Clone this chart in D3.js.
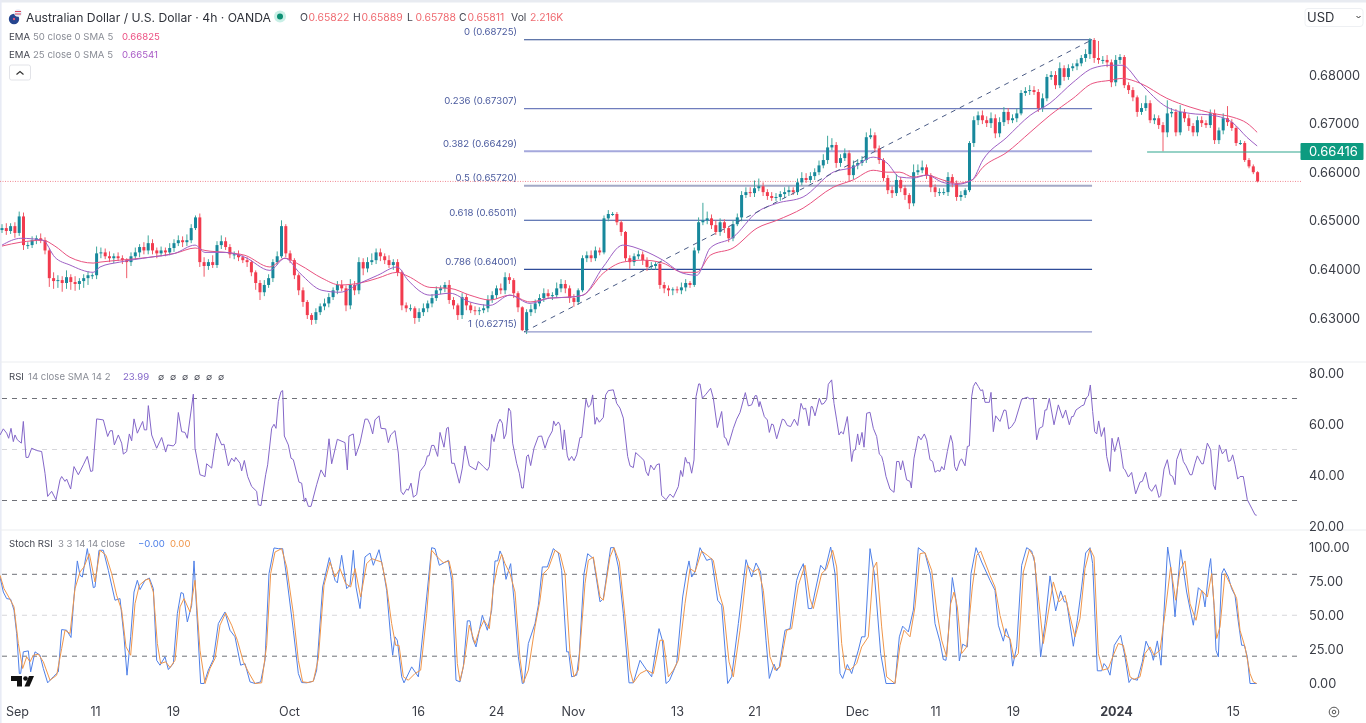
<!DOCTYPE html>
<html><head><meta charset="utf-8"><title>AUD/USD 4h</title>
<script src="https://cdnjs.cloudflare.com/ajax/libs/d3/7.8.5/d3.min.js"></script>
<style>html,body{margin:0;padding:0;background:#fff;overflow:hidden}svg{display:block;font-family:Inter,"Open Sans",sans-serif;filter:blur(0.35px)}</style>
</head><body><svg id="c" width="1366" height="723"></svg>
<script>
// Prices in pips (0.6560 = 6560). Time in chart ticks: one 4h bar is 12.9 ticks.
const closes=[6485,6479,6489,6475,6509,6450,6450,6460,6464,6460,6439,6382,6376,6378,6372,6384,6374,6370,6376,6382,
6388,6388,6433,6435,6427,6423,6427,6423,6419,6415,6427,6435,6446,6439,6454,6439,6433,6439,6435,6444,
6454,6460,6456,6460,6485,6507,6415,6407,6415,6409,6450,6458,6446,6431,6431,6425,6419,6415,6394,6372,
6353,6368,6382,6415,6427,6489,6433,6419,6388,6357,6333,6306,6296,6312,6324,6330,6343,6357,6368,6361,
6326,6368,6357,6415,6402,6415,6419,6435,6427,6419,6409,6415,6394,6326,6320,6320,6300,6312,6320,6330,
6341,6357,6361,6368,6337,6326,6306,6343,6326,6316,6314,6316,6320,6337,6347,6361,6357,6384,6378,6351,
6322,6275,6312,6318,6330,6341,6351,6345,6347,6361,6370,6361,6341,6333,6357,6423,6429,6423,6439,6435,
6505,6514,6514,6497,6477,6423,6415,6427,6431,6419,6405,6407,6411,6368,6361,6357,6359,6357,6363,6372,
6368,6439,6497,6501,6505,6491,6477,6497,6485,6464,6493,6507,6553,6559,6557,6567,6571,6559,6551,6547,
6549,6555,6559,6563,6559,6579,6588,6584,6592,6600,6614,6625,6651,6656,6619,6629,6639,6594,6614,6619,
6625,6672,6676,6649,6625,6588,6563,6557,6584,6567,6553,6536,6600,6604,6610,6594,6569,6559,6559,6559,
6590,6577,6549,6553,6563,6660,6707,6717,6707,6701,6711,6680,6703,6724,6707,6711,6721,6763,6767,6769,
6765,6732,6752,6796,6800,6779,6814,6796,6814,6818,6824,6835,6843,6872,6835,6831,6831,6826,6785,6831,
6837,6779,6769,6754,6724,6732,6742,6707,6711,6697,6682,6721,6724,6682,6724,6711,6695,6682,6707,6701,
6697,6721,6666,6686,6711,6703,6691,6660,6660,6625,6612,6600,6581];
const wickUp=[8,10,6,8,10,8,6,8,6,10,6,4,12,10,8,14,6,12,6,8,
8,4,14,10,8,10,6,8,6,4,8,10,6,10,16,8,6,8,6,10,
8,10,8,12,8,4,8,10,6,14,8,12,8,6,6,8,4,6,4,4,
6,10,8,6,10,12,4,6,4,4,6,4,4,8,6,10,8,6,8,10,
6,12,8,10,8,10,14,8,8,6,10,6,6,4,6,8,4,8,10,6,
8,8,6,6,10,6,4,8,6,6,8,6,8,10,8,6,10,10,8,4,
4,2,6,10,8,8,10,8,6,12,10,8,6,8,4,6,8,10,8,6,
6,8,4,4,4,2,6,6,8,6,6,8,4,4,6,6,4,6,10,8,
4,6,10,36,14,8,10,8,6,4,8,8,8,10,10,16,16,8,6,8,
8,6,10,8,6,8,12,10,8,8,10,12,24,14,6,8,10,6,10,8,
8,10,14,6,6,4,6,8,12,6,6,4,16,12,14,6,4,6,8,8,
10,6,6,8,4,4,8,8,10,8,12,8,10,10,8,8,10,6,8,10,
8,6,10,6,8,8,12,6,8,6,8,6,10,4,4,35,8,10,6,10,
6,4,6,6,4,10,16,6,8,6,6,27,8,6,14,6,8,6,8,8,
6,8,8,6,10,25,6,4,6,4,4,4,2];
const wickDown=[6,8,6,10,6,10,8,6,8,6,8,18,16,14,18,12,16,14,12,14,
14,8,8,10,6,8,10,6,8,33,8,6,10,8,8,8,10,6,8,6,
8,6,10,8,6,4,10,22,8,6,6,8,6,8,10,8,6,10,8,14,
16,8,6,8,6,4,8,6,8,10,10,8,10,8,6,8,8,6,8,6,
12,8,10,8,14,8,6,8,10,8,6,10,8,10,8,6,12,8,8,8,
8,6,8,8,8,8,10,8,10,6,8,8,6,8,6,8,8,8,8,10,
10,2,8,8,8,6,8,6,8,6,8,10,10,10,6,4,8,8,6,6,
4,6,4,6,8,6,14,8,6,10,8,6,8,8,10,12,10,6,8,8,
6,4,6,6,8,8,6,8,10,8,6,4,8,6,8,8,6,8,8,6,
6,8,8,8,6,6,6,6,6,8,6,6,8,6,10,8,6,14,8,8,
6,6,4,8,8,6,8,10,6,8,10,12,6,6,6,8,10,10,8,6,
8,8,8,8,6,4,8,10,8,8,10,10,8,8,8,6,8,4,6,8,
6,8,8,6,6,8,6,8,6,6,8,6,8,10,10,8,8,10,10,8,
8,6,8,8,10,6,6,6,8,8,39,10,8,8,6,8,10,8,8,8,
6,6,8,8,8,8,6,6,4,4,4,4,2];
const emaBars=[0,4.4,9.5,12.3,15.8,21.2,22.8,27.4,34.4,40.2,44.9,47.2,51.9,56.5,62.3,65.8,69.3,74.4,78.6,83.3,
87.4,91.9,94.4,99.5,104.2,108.8,113.5,118.1,122.8,127.4,132.1,135.1,139.8,144.4,149.1,153.7,158.4,161.6,164.7,170,
175.6,180.2,186.3,193.3,197.9,202.6,205.8,208.8,211.9,215.1,218.8,222.1,225.6,228.1,233.7,239.1,243.7,249.1,253.7,257.7,
260.5,264.7,270.9,276.3,281.6,286.3,289.5,291.9];
const ema50=[6448,6456,6460,6448,6425,6413,6415,6419,6425,6433,6444,6439,6435,6429,6405,6423,6409,6382,6368,6372,
6382,6394,6386,6363,6361,6347,6337,6347,6333,6341,6343,6347,6392,6415,6419,6413,6394,6394,6429,6444,
6485,6501,6526,6569,6584,6604,6600,6600,6590,6594,6584,6577,6584,6610,6641,6682,6717,6752,6783,6789,
6793,6783,6752,6734,6721,6713,6701,6682];
const ema25=[6450,6464,6460,6425,6409,6394,6405,6415,6425,6433,6450,6435,6435,6425,6398,6423,6392,6357,6353,6372,
6388,6405,6378,6347,6351,6333,6326,6347,6330,6341,6343,6347,6405,6450,6439,6419,6392,6388,6444,6466,
6518,6536,6549,6600,6610,6631,6619,6590,6588,6594,6579,6575,6584,6625,6672,6717,6742,6785,6814,6820,
6820,6783,6734,6721,6717,6701,6672,6654];
const fibRatios=["0","0.236","0.382","0.5","0.618","0.786","1"];
const fibPrices=[6872.5,6730.7,6642.9,6572,6501.1,6400.1,6271.5];
const fibLabels=["0.68725","0.67307","0.66429","0.65720","0.65011","0.64001","0.62715"];
const fibColors=["#2c4a8e","#6f7dbd","#a5a8dc","#a3a9c6","#33509f","#2f4c99","#9097cb"];
const fibWidths=[1,1.2,2,2,1.1,1.1,1.4];
const fibBars=[121.4,253.5];
const lastPrice=6581, markedLevel=6641.6, markedStartBar=266.3;
const priceTicks=[6300,6400,6500,6600,6700,6800];
const rsiTicks=[20,40,60,80], rsiBands=[70,50,30];
const stochTicks=[0,25,50,75,100], stochBands=[80,50,20];
const timeTickAt=[51,285,519,867,1254,1488,1719,2031,2262,2571,2805,3039,3348,3699];
const timeTickText=["Sep","11","19","Oct","16","24","Nov","13","21","Dec","11","19","2024","15"];
const rsiSeries=[[0,55.7],[10,58.1],[20,56.4],[26,54.4],[33,58.3],[40,53.1],[45,55.7],[52,53.8],[64,52.5],[70,61],[78,46.9],[85,46.9],[95,50.5],[110,49.6],[125,49.2],[135,40.7],[143,31.6],[155,33.6],[168,30.3],[180,38.1],[185,39.4],[195,37.5],[200,38.4],[212,34.5],[222,43.3],[235,40.1],[250,44],[262,47.3],[272,41.4],[278,41.6],[290,62],[310,61.6],[323,55.1],[330,57.3],[337,57.4],[343,51.8],[355,55.7],[365,52.5],[370,48.2],[380,49.2],[388,56.1],[395,53.4],[402,62],[412,56.4],[428,61],[433,57.7],[440,57.7],[445,67.2],[455,55.7],[470,50.5],[485,54.7],[497,49],[503,51.8],[520,51.4],[527,52.5],[535,64.5],[545,57],[555,56.7],[562,54.4],[580,71.7],[585,50.5],[600,40.1],[615,39.4],[620,44.4],[635,42.7],[650,56.4],[665,51.8],[672,52.1],[685,43.6],[695,46.6],[703,45.3],[707,46.9],[720,44.6],[725,41.6],[733,45.7],[743,39.4],[755,35.5],[770,33.6],[775,28.3],[783,28],[797,40.1],[803,44],[815,58.3],[822,59.9],[828,58.3],[835,68.8],[843,72.7],[848,73.1],[853,55.3],[865,51.8],[873,46.6],[880,46],[897,37.2],[905,36.8],[913,29.6],[917,31],[925,27.7],[933,27.7],[950,36.2],[963,42],[975,39.2],[987,54.2],[995,44.4],[1012,54],[1035,52.7],[1042,42],[1047,55.3],[1060,56.1],[1067,47.5],[1080,52.5],[1095,61.9],[1103,61.9],[1110,59.9],[1118,56.1],[1125,61.6],[1137,63.2],[1143,58.3],[1157,58.1],[1165,52.7],[1172,55.7],[1185,57.4],[1195,48.6],[1203,33.6],[1210,32.3],[1220,34.5],[1225,34],[1233,36.8],[1240,31.3],[1250,32.3],[1260,41.4],[1275,44],[1282,47.5],[1287,47.5],[1295,51.6],[1302,51.6],[1313,47.3],[1320,56.7],[1332,50.9],[1340,58.3],[1345,58.7],[1355,44.6],[1363,44.6],[1378,36.8],
[1387,42.7],[1395,51.4],[1408,43.6],[1428,42],[1435,45.3],[1450,43.3],[1462,41.8],[1468,43.3],[1475,56],[1482,53.1],[1493,59.9],[1500,61.9],[1507,60.3],[1512,54.2],[1518,56.1],[1526,66.2],[1532,64.9],[1538,52.5],[1550,44.6],[1558,40.7],[1565,34.9],[1570,34.9],[1580,47.3],[1585,47.9],[1592,43.7],[1602,50.5],[1615,55.1],[1625,55.3],[1635,50.5],[1645,54.4],[1657,57.3],[1661,61.2],[1667,59.3],[1675,60.8],[1680,59.6],[1688,50.1],[1693,57.7],[1702,47.5],[1707,45.7],[1715,47.3],[1722,45.6],[1730,47.9],[1740,54.7],[1745,54.7],[1758,69.7],[1765,66.6],[1772,67.5],[1778,71.4],[1785,59.9],[1790,62.6],[1798,60.7],[1810,62.6],[1817,71.4],[1825,73.1],[1840,73.4],[1850,68.1],[1860,66.2],[1870,62.3],[1883,47.3],[1890,43.6],[1900,42.9],[1907,48.8],[1922,47],[1932,45.7],[1938,41.4],[1945,39.7],[1952,43.9],[1962,42],[1970,44],[1978,44.4],[1985,32],[1998,30.3],[2010,32.5],[2020,31.2],[2035,35.5],[2042,41.8],[2048,39.4],[2056,46.9],[2062,44.7],[2068,44.9],[2075,40.7],[2082,45.9],[2088,70.7],[2096,75.7],[2100,75.7],[2107,70.1],[2118,71.7],[2132,74],[2140,70.1],[2152,58.6],[2165,64.9],[2173,54.8],[2178,54.4],[2185,51.6],[2200,58.3],[2210,61.9],[2220,64.5],[2236,72.3],[2245,67.1],[2255,67.5],[2265,71.1],[2270,71.1],[2277,66.8],[2280,68.8],[2293,62.9],[2302,61.6],[2308,56.7],[2315,60],[2320,59.7],[2330,54.2],[2347,61.9],[2353,61.6],[2362,59.4],[2372,59],[2383,61.9],[2393,59.4],[2403,68.1],[2410,65.8],[2417,66.2],[2427,59.3],[2433,66.8],[2437,66.8],[2445,63.2],[2458,70.1],[2465,67.7],[2472,68.1],[2480,69.7],[2485,75.6],[2495,77.3],[2502,68.1],[2510,61.6],[2517,55.7],[2523,57],[2530,56.1],[2542,62.9],[2555,45.3],[2560,49.5],[2566,49.9],[2573,56.1],[2578,51.8],[2586,56.7],[2592,50.9],[2600,64.2],[2610,64.6],[2620,58.3],[2630,55.1],[2638,48.2],[2645,47.3],[2650,44.9],[2658,39.4],[2670,34.5],[2682,33.2],[2690,45.3],[2697,45.3],[2702,42],[2708,45.6],[2720,38.1],[2730,37.5],
[2734,34.9],[2742,46.6],[2755,55.3],[2763,53.8],[2773,56.1],[2780,53.8],[2790,46],[2798,45.3],[2805,41.1],[2813,41.8],[2820,41.4],[2825,43.3],[2832,42],[2842,49.2],[2852,55.5],[2858,52.5],[2864,43.3],[2870,41.6],[2880,45.7],[2885,46.3],[2895,43.6],[2902,51.2],[2908,51.4],[2915,70.7],[2920,74.7],[2927,76.4],[2935,74.7],[2942,73.1],[2948,73.4],[2955,68.5],[2968,68.5],[2973,72.4],[2980,57],[2987,63.2],[3000,61],[3012,65.5],[3018,65.3],[3026,58.1],[3035,59],[3045,61],[3065,69.7],[3082,70.5],[3090,69.8],[3100,70.1],[3110,53.8],[3118,58.3],[3128,59],[3135,65.5],[3140,65.5],[3148,70.1],[3162,59.7],[3175,67.5],[3188,62.3],[3197,65.5],[3208,59.7],[3215,62.9],[3220,62.9],[3228,65.5],[3245,67.1],[3252,67.5],[3258,70.1],[3265,71],[3271,75.3],[3278,64.9],[3284,57],[3290,56.1],[3296,61.2],[3304,55.1],[3313,58.6],[3320,47.3],[3330,41.4],[3336,54.4],[3344,49.2],[3355,54.8],[3362,49.9],[3370,42.7],[3375,42],[3385,39.2],[3395,41],[3407,32.6],[3420,37.2],[3427,37.5],[3437,41.1],[3447,34.9],[3455,33.6],[3467,36.2],[3477,31.2],[3482,31.9],[3492,42.3],[3502,46],[3510,40.1],[3518,39.4],[3525,36.2],[3530,46],[3542,50.3],[3550,45.3],[3558,43.6],[3570,40.1],[3576,40.1],[3585,44.6],[3592,47.5],[3605,44.4],[3610,44.4],[3622,52.5],[3632,49.9],[3640,36.2],[3646,34.2],[3658,51.8],[3667,48.3],[3678,50.1],[3685,45.3],[3692,45.7],[3698,47.9],[3705,44],[3713,38.4],[3720,39.4],[3730,39.4],[3742,30.3],[3755,27],[3765,24.4],[3770,24.2]];
const stochK=[[0,78],[10,67],[20,62.2],[32,61.7],[42,53.7],[50,36.6],[58,7.3],[62,7.3],[70,23.2],[85,23.9],[92,8.5],[105,23.2],[120,20.7],[130,11],[143,0.5],[160,4.9],[175,8.5],[185,39.5],[200,39],[213,33.7],[222,63.4],[232,89.8],[240,79.3],[247,78],[262,98.8],[270,85.4],[280,70.2],[285,70.7],[297,97.6],[310,97.6],[325,82.9],[345,61],[360,62.2],[372,34.2],[381,6.1],[392,34.2],[402,67],[412,75.6],[420,68.8],[435,75.6],[448,77.3],[460,69.5],[470,17],[480,13.4],[495,19.5],[505,10.2],[520,14.6],[532,51.2],[543,66.6],[550,65.9],[562,45.1],[575,57.3],[582,89.8],[590,53.7],[602,0],[612,0],[625,9.8],[640,17.6],[655,43.9],[675,52.4],[690,39],[705,34.2],[722,13.4],[735,14.6],[750,1.2],[765,0],[782,1.2],[795,17],[807,80.5],[822,99.3],[835,98.8],[848,98.8],[860,78],[880,39],[895,7.3],[905,0.7],[920,0.5],[940,1.7],[950,9.8],[968,70.7],[988,92.2],[1005,75.6],[1012,73.7],[1025,93.9],[1040,69.5],[1050,72],[1060,97.6],[1068,70.7],[1080,54.9],[1095,92.7],[1110,95.6],[1120,86.6],[1137,98],[1150,82.9],[1160,68.3],[1172,34.2],[1178,20.7],[1185,34.2],[1192,31.7],[1205,4.9],[1212,0.5],[1235,12.2],[1255,4.9],[1280,63.4],[1295,99.5],[1305,98.8],[1318,86.6],[1345,90.2],[1355,75.6],[1368,2.4],[1380,1.2],
[1390,12.2],[1402,45.9],[1410,45.9],[1418,32.9],[1428,26.8],[1447,50],[1462,39],[1475,53.7],[1485,89.8],[1493,89.8],[1500,97.1],[1508,92.7],[1518,76.3],[1532,87.8],[1542,61],[1555,19.5],[1567,0],[1572,0.5],[1585,29.3],[1605,43.9],[1615,57.3],[1627,85.4],[1642,85.4],[1660,98.8],[1675,95.6],[1685,82.9],[1700,23.2],[1706,23.2],[1715,4.9],[1730,6.1],[1738,21.9],[1752,80.5],[1763,95.1],[1780,91.5],[1800,59.8],[1810,62.2],[1832,99.5],[1842,99.5],[1855,85.4],[1870,51.2],[1887,0.5],[1900,0.5],[1920,17],[1940,9.8],[1955,4.9],[1977,40.2],[1987,31.7],[1998,0],[2008,2],[2030,14.6],[2048,63.4],[2060,81.7],[2067,89.8],[2075,78],[2085,81.7],[2100,99.5],[2120,90.2],[2135,91.5],[2153,61],[2165,57.3],[2183,0],[2195,4.9],[2215,43.9],[2238,90.7],[2255,78],[2268,88.3],[2282,81.7],[2298,31.7],[2308,3.7],[2322,14.2],[2330,9.3],[2338,12.2],[2355,39],[2370,40.2],[2390,75.6],[2398,81.7],[2410,87.8],[2425,54.9],[2435,54.9],[2445,67],[2462,86.6],[2475,82.9],[2492,100],[2505,80.5],[2520,7.3],[2528,3.7],[2542,13.9],[2555,7.3],[2562,13.4],[2575,24.4],[2585,34.2],[2595,34.2],[2610,98.8],[2623,80.5],[2642,22],[2658,0],[2685,0],[2698,34.2],[2708,42],[2725,37.8],
[2740,53.7],[2755,99.5],[2775,95.6],[2792,79.3],[2805,43.9],[2820,30.5],[2830,17.6],[2838,17],[2845,36.6],[2857,77.6],[2868,61],[2878,16.6],[2888,28.8],[2902,26.8],[2913,80.5],[2928,99.5],[2945,89],[2970,75.6],[2985,68.3],[2995,42.7],[3010,31],[3018,40.2],[3030,31.7],[3038,12.7],[3050,26.8],[3065,86.6],[3080,99.5],[3095,97.1],[3105,87.8],[3122,19.5],[3135,43.9],[3150,78.8],[3167,53.2],[3182,67.8],[3193,59.8],[3200,59.8],[3220,27.3],[3232,46.3],[3245,70.7],[3257,95.6],[3270,99.5],[3278,87.8],[3292,9.3],[3305,9.3],[3312,14.6],[3320,12.2],[3330,6.1],[3343,28],[3362,35.4],[3375,19.5],[3387,0.7],[3395,3.7],[3412,2.4],[3427,15.9],[3438,31],[3455,21.9],[3460,17],[3472,31.2],[3483,13.4],[3503,100],[3515,80.5],[3525,48.8],[3542,98],[3560,67],[3580,42.7],[3595,70.2],[3608,67],[3615,56.1],[3627,84.2],[3632,91.5],[3642,57.3],[3648,24.4],[3655,19.5],[3665,80.5],[3672,84.2],[3685,78],[3695,69.5],[3705,64.6],[3715,45.1],[3725,28],[3733,28],[3742,19.5],[3750,0],[3770,0]];
const stochD=[[0,79.3],[12,69.5],[30,61.7],[42,56.1],[55,29.3],[68,11],[80,19.5],[90,15.9],[100,20.7],[115,21.5],[130,15.9],[150,2.4],[170,6.1],[185,25.6],[195,39],[210,36.6],[225,69.5],[240,81.7],[252,85.4],[268,95.1],[285,74.4],[300,97.6],[318,93.9],[335,80.5],[350,64.6],[365,53.7],[378,26.8],[392,20.7],[405,58.5],[418,72],[435,75.6],[447,76.8],[460,67],[472,29.3],[482,14.6],[497,15.9],[510,11.7],[525,17],[540,56.1],[552,62.2],[570,52.4],[585,75.6],[600,24.4],[615,0],[630,11],[645,18.3],[660,42.7],[677,51.7],[695,42.7],[712,31.7],[730,15.9],[745,8.5],[765,0],[785,0.5],[800,28],[812,80.5],[825,96.3],[845,98.8],[860,85.4],[880,51.2],[895,17],[908,1.2],[925,0.7],[940,1.7],[955,18.3],[972,72],[990,89],[1005,78],[1020,84.2],[1037,73.2],[1052,70.7],[1065,84.2],[1082,63.4],[1100,87.8],[1115,91.5],[1130,90.2],[1145,89],[1160,70.7],[1175,43.9],[1187,28],[1197,28],[1210,4.9],[1225,2.4],[1245,7.3],[1262,9.8],[1280,51.2],[1295,97.6],[1312,92.7],[1330,88.5],[1347,89.8],[1358,78],[1372,14.6],[1380,2],
[1392,14.6],[1408,42.7],[1425,29.3],[1440,40.2],[1452,46.3],[1468,40.2],[1480,70.7],[1492,85.4],[1505,94.6],[1515,87.8],[1530,80.5],[1545,67],[1560,18.3],[1570,0.5],[1585,9.8],[1605,41.5],[1620,61],[1630,80.5],[1645,84.2],[1665,97.6],[1680,95.1],[1695,80.5],[1710,22],[1722,4.9],[1735,9.8],[1755,73.2],[1765,90.2],[1780,92.7],[1800,63.4],[1810,61],[1830,92.7],[1842,99.5],[1858,89],[1875,48.8],[1890,9.8],[1900,0.5],[1920,7.3],[1940,9.8],[1960,7.3],[1980,31.7],[1990,31.7],[2005,4.9],[2020,9.8],[2035,17],[2055,58.5],[2070,84.2],[2085,81.7],[2105,97],[2122,93.9],[2140,90.2],[2158,65.9],[2170,56.1],[2187,15.9],[2200,4.9],[2220,39],[2242,86.6],[2260,81.7],[2275,84.2],[2290,68.3],[2310,19.5],[2325,9.8],[2340,12.2],[2360,39],[2375,40.2],[2395,72],[2415,86.6],[2430,62.2],[2440,54.9],[2465,80.5],[2480,84.2],[2498,97.6],[2510,85.4],[2525,29.3],[2535,11],[2550,9.8],[2570,14.6],[2585,26.8],[2605,34.2],[2620,84.2],[2630,89],[2645,41.5],[2660,4.9],[2685,0],[2700,28],[2712,39],[2730,34.2],
[2745,56.1],[2760,95.1],[2775,95.9],[2795,82.9],[2810,53.7],[2825,31.7],[2840,19.5],[2852,58.5],[2862,67],[2872,56.1],[2885,22],[2900,26.8],[2917,70.7],[2930,93.9],[2942,97],[2970,79.3],[2985,70.7],[3000,50],[3015,35.4],[3030,33],[3042,18.3],[3055,22],[3070,81.7],[3088,98],[3102,92.7],[3115,63.4],[3130,29.3],[3145,52.4],[3160,74.4],[3177,59.8],[3195,64.6],[3208,51.2],[3225,34.2],[3240,47.6],[3255,84.2],[3270,98.8],[3282,92.7],[3295,22],[3308,9.8],[3325,11],[3340,20.7],[3355,29.3],[3370,28],[3390,4.9],[3402,3],[3420,4.9],[3435,22],[3450,26.8],[3462,20.7],[3480,24.4],[3495,51.2],[3512,85.4],[3527,61],[3540,82.9],[3555,89.8],[3570,58.5],[3588,46.3],[3605,68.3],[3622,63.4],[3635,80.5],[3650,33],[3660,41.5],[3675,80.5],[3695,70.7],[3710,62.2],[3720,39],[3735,26.8],[3750,7.3],[3760,1.2],[3770,0]];
const headerLetters=["O","H","L","C"], headerValues=["0.65822","0.65889","0.65788","0.65811"];

const svg=d3.select("#c");
const TICKS_PER_BAR=12.9, BAR_ORIGIN=6;
const barTick=b=>BAR_ORIGIN+b*TICKS_PER_BAR;
const x=d3.scaleLinear().domain([0,4098]).range([0,1366]);
const yP=d3.scaleLinear().domain([6300,6800]).range([318,75]);
const yR=d3.scaleLinear().domain([20,80]).range([526,373]);
const yS=d3.scaleLinear().domain([0,100]).range([683.5,547]);
const PLOT_R=1298;
const INK="#434651", MUTED="#8a8d96";

// frame
svg.append("rect").attr("width",1366).attr("height",723).attr("fill","#fff");
svg.append("rect").attr("x",0).attr("y",0).attr("width",1366).attr("height",2.5).attr("fill","#e8ebf1");
svg.append("rect").attr("x",0).attr("y",0).attr("width",1.6).attr("height",723).attr("fill","#e8ebf5");
[362,530].forEach(y=>svg.append("line").attr("x1",0).attr("x2",1366).attr("y1",y).attr("y2",y).attr("stroke","#ebedf0").attr("stroke-width",1));

// fib
const fib=svg.append("g");
fibPrices.forEach((p,i)=>{
  fib.append("line").attr("x1",x(barTick(fibBars[0]))).attr("x2",x(barTick(fibBars[1]))).attr("y1",yP(p)).attr("y2",yP(p))
    .attr("stroke",fibColors[i]).attr("stroke-width",fibWidths[i]);
  fib.append("text").attr("x",x(barTick(fibBars[0]))-7).attr("y",yP(p)-4.5).attr("text-anchor","end")
    .attr("font-size",9.6).attr("fill","#4a5a9e").text(fibRatios[i]+" ("+fibLabels[i]+")");
});

// last price
svg.append("line").attr("x1",0).attr("x2",PLOT_R+3).attr("y1",yP(lastPrice)).attr("y2",yP(lastPrice))
  .attr("stroke","#f08a94").attr("stroke-width",1).attr("stroke-dasharray","1 1.5");

// candles
const candles=closes.map((c,i)=>{const o=i?closes[i-1]:c-4;return{i,o,c,h:Math.max(o,c)+wickUp[i],l:Math.min(o,c)-wickDown[i]};});
const UP="#17889c", DN="#f23b4e";
const gC=svg.append("g");
gC.selectAll("line").data(candles).join("line")
  .attr("x1",d=>x(barTick(d.i))).attr("x2",d=>x(barTick(d.i))).attr("y1",d=>yP(d.h)).attr("y2",d=>yP(d.l))
  .attr("stroke",d=>d.c>=d.o?"#3ea79c":"#ef5a68").attr("stroke-width",1);
gC.selectAll("rect").data(candles).join("rect")
  .attr("x",d=>x(barTick(d.i))-1.5).attr("width",3)
  .attr("y",d=>Math.min(yP(d.o),yP(d.c))).attr("height",d=>Math.max(1,Math.abs(yP(d.o)-yP(d.c))))
  .attr("fill",d=>d.c>=d.o?UP:DN);

// EMAs
const emaLine=d3.line().x((d,i)=>x(barTick(emaBars[i]))).y(d=>yP(d)).curve(d3.curveMonotoneX);
svg.append("path").attr("d",emaLine(ema50)).attr("fill","none").attr("stroke","#e9527f").attr("stroke-width",1);
svg.append("path").attr("d",emaLine(ema25)).attr("fill","none").attr("stroke","#9d5fc4").attr("stroke-width",1);

// trend line dashed
svg.append("line").attr("x1",x(barTick(fibBars[0]))).attr("x2",x(barTick(fibBars[1])))
  .attr("y1",yP(fibPrices[6])).attr("y2",yP(fibPrices[0])).attr("stroke","#4a5b85").attr("stroke-width",1).attr("stroke-dasharray","5 5");

// marked level
svg.append("line").attr("x1",x(barTick(markedStartBar))).attr("x2",PLOT_R+3).attr("y1",yP(markedLevel)).attr("y2",yP(markedLevel))
  .attr("stroke","#2ea58e").attr("stroke-width",1.2);
svg.append("rect").attr("x",1300.5).attr("y",143).attr("width",63).attr("height",17).attr("rx",1).attr("fill","#0d9b80");
svg.append("text").attr("x",1309).attr("y",156).attr("font-size",13).attr("fill","#fff").text("0.66416");

// axes
function styleAxis(g,fmt){g.select(".domain").remove();g.selectAll("line").remove();
  g.selectAll("text").attr("fill","#3a3d46").attr("font-size",fmt||12.8).attr("font-family","Inter,'Open Sans',sans-serif");}
svg.append("g").attr("transform","translate(1309,0)")
  .call(d3.axisRight(yP).tickValues(priceTicks).tickSize(0).tickPadding(0).tickFormat(d=>(d/1e4).toFixed(5))).call(g=>styleAxis(g));
svg.append("g").attr("transform","translate(1309,0)")
  .call(d3.axisRight(yR).tickValues(rsiTicks).tickSize(0).tickPadding(0).tickFormat(d3.format(".2f"))).call(g=>styleAxis(g));
svg.append("g").attr("transform","translate(1309,0)")
  .call(d3.axisRight(yS).tickValues(stochTicks).tickSize(0).tickPadding(0).tickFormat(d3.format(".2f"))).call(g=>styleAxis(g));
const axT=svg.append("g").attr("transform","translate(0,707)")
  .call(d3.axisBottom(x).tickValues(timeTickAt).tickSize(0).tickPadding(0).tickFormat((d,i)=>timeTickText[i]));
styleAxis(axT,12.6);
axT.selectAll("text").attr("font-weight",(d,i)=>timeTickText[i]==="2024"?700:400);

// bands
function bands(vals,y){vals.forEach((v,i)=>svg.append("line").attr("x1",2).attr("x2",PLOT_R).attr("y1",y(v)).attr("y2",y(v))
  .attr("stroke",i===1?"#d6d6da":"#6f7178").attr("stroke-width",1).attr("stroke-dasharray","5 5"));}
bands(rsiBands,yR); bands(stochBands,yS);

// indicators
const lineOf=y=>d3.line().x(d=>x(d[0])).y(d=>y(d[1]));
svg.append("path").attr("d",lineOf(yR)(rsiSeries)).attr("fill","none").attr("stroke","#8467c9").attr("stroke-width",1);
svg.append("path").attr("d",lineOf(yS)(stochK)).attr("fill","none").attr("stroke","#4f80e8").attr("stroke-width",1);
svg.append("path").attr("d",lineOf(yS)(stochD)).attr("fill","none").attr("stroke","#f0964a").attr("stroke-width",1);

// header text
function T(px,py,s,fill,size,extra){const t=svg.append("text").attr("x",px).attr("y",py).attr("fill",fill).attr("font-size",size).text(s);if(extra)extra(t);return t;}
T(26,21.5,"Australian Dollar / U.S. Dollar · 4h · OANDA","#2f323a",12.2);
[300,353,407,459].forEach((px,i)=>{T(px,21,headerLetters[i],INK,10.4);T(px+8.5,21,headerValues[i],"#ef6a70",10.4);});
T(511,21,"Vol",INK,10.4);T(530,21,"2.216K","#ef6a70",10.4);
T(9,39.5,"EMA",INK,9.6);T(33,39.5,"50 close 0 SMA 5",MUTED,9.6);T(122,39.5,"0.66825","#ec4f82",9.6);
T(9,58,"EMA",INK,9.6);T(33,58,"25 close 0 SMA 5",MUTED,9.6);T(122,58,"0.66541","#a95bc6",9.6);
T(9,379.5,"RSI",INK,9.6);T(28,379.5,"14 close SMA 14 2",MUTED,9.6);T(123,379.5,"23.99","#8467c9",9.6);
[158,170,182,194,206,218].forEach(px=>T(px,379.5,"∅",INK,9));
T(9,547,"Stoch RSI",INK,9.6);T(58,547,"3 3 14 14 close",MUTED,9.6);T(138,547,"−0.00","#4f80e8",9.6);T(170,547,"0.00","#f0964a",9.6);

// collapse button
svg.append("rect").attr("x",9.5).attr("y",65).attr("width",21).attr("height",15).attr("rx",2).attr("fill","#fff").attr("stroke","#e2e3e8");
svg.append("path").attr("d","M16.5 74.5 L20 71.5 L23.5 74.5").attr("fill","none").attr("stroke","#333").attr("stroke-width",1.2);

// live dot
svg.append("circle").attr("cx",280).attr("cy",16.5).attr("r",6).attr("fill","#c9efe6");
svg.append("circle").attr("cx",280).attr("cy",16.5).attr("r",3).attr("fill","#0b8f73");

// flag
svg.append("circle").attr("cx",14).attr("cy",19).attr("r",5.2).attr("fill","#26458f");
svg.append("circle").attr("cx",18).attr("cy",13).attr("r",3.8).attr("fill","#e7eef8");
svg.append("path").attr("d","M15 11.5 L21 11.5 M15 14 L21 14").attr("stroke","#d9455f").attr("stroke-width",1.2);
svg.append("circle").attr("cx",14).attr("cy",19).attr("r",1.2).attr("fill","#e4537a");

// USD box
svg.append("rect").attr("x",1305).attr("y",8.5).attr("width",58).attr("height",18).attr("rx",3).attr("fill","#fff").attr("stroke","#eef0f3");
T(1307,22,"USD","#2f323a",13);
svg.append("path").attr("d","M1356.5 16 L1358.5 18 L1360.5 16").attr("fill","none").attr("stroke","#333").attr("stroke-width",1);

// TV logo
svg.append("path").attr("d","M11 676 H22 V686.5 H17 V681 H11 Z").attr("fill","#111");
svg.append("circle").attr("cx",25.5).attr("cy",678.5).attr("r",2.3).attr("fill","#111");
svg.append("path").attr("d","M29 676 H34 L29.5 686.5 H24.5 Z").attr("fill","#111");

// settings
svg.append("circle").attr("cx",1334).attr("cy",712).attr("r",4.8).attr("fill","none").attr("stroke","#555").attr("stroke-width",1);
svg.append("circle").attr("cx",1334).attr("cy",712).attr("r",1.8).attr("fill","none").attr("stroke","#555").attr("stroke-width",1);
</script></body></html>
